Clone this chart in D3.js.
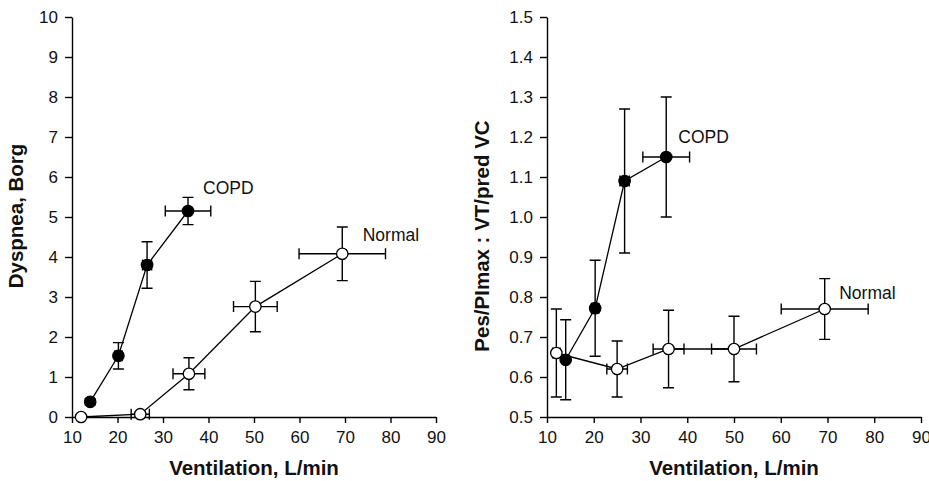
<!DOCTYPE html>
<html>
<head>
<meta charset="utf-8">
<script src="https://cdn.jsdelivr.net/npm/d3@7"></script>
<style>
  body { margin: 0; background: #fff; }
  svg { font-family: "Liberation Sans", Arial, sans-serif; }
  .tick text { font-size: 17px; fill: #111; }
  .tick line, .domain { stroke: #000; stroke-width: 1.4; }
  .axis-title { font-size: 20.5px; font-weight: bold; fill: #111; }
  .series-label { font-size: 17.5px; fill: #111; }
</style>
</head>
<body>
<div id="chart"></div>
<script>
// ventilation (L/min) and its SD, for each group
const ventCopd = [14, 20.2, 26.5, 35.5];
const ventCopdErr = [0.5, 0.8, 1, 5];
const ventNormal = [12, 25, 35.7, 50.3, 69.4];
const ventNormalErr = [0, 2, 3.5, 4.8, 9.5];

// right panel points were read slightly apart from the left ones
const ventCopdR = [14, 20.3, 26.6, 35.5];
const ventCopdRErr = [0.5, 0.8, 1, 5];
const ventNormalR = [12, 25, 36, 50, 69.4];
const ventNormalRErr = [0.8, 2.2, 3.3, 4.8, 9.3];

// dyspnea, Borg
const dyspCopd = [0.38, 1.53, 3.8, 5.15];
const dyspCopdErr = [0.08, 0.33, 0.58, 0.34];
const dyspNormal = [0, 0.07, 1.08, 2.76, 4.08];
const dyspNormalErr = [0, 0.05, 0.4, 0.63, 0.67];

// Pes/PImax : VT/pred VC
const effortCopd = [0.643, 0.772, 1.09, 1.15];
const effortCopdErr = [0.1, 0.12, 0.18, 0.15];
const effortNormal = [0.66, 0.62, 0.67, 0.67, 0.77];
const effortNormalErr = [0.11, 0.07, 0.097, 0.082, 0.076];

const xTicks = [10, 20, 30, 40, 50, 60, 70, 80, 90];
const dyspTicks = [0, 1, 2, 3, 4, 5, 6, 7, 8, 9, 10];
const effortTicks = [0.5, 0.6, 0.7, 0.8, 0.9, 1.0, 1.1, 1.2, 1.3, 1.4, 1.5];

const zip = (xs, xe, ys, ye) => xs.map((x, i) => ({ x: x, xErr: xe[i], y: ys[i], yErr: ye[i] }));

class ErrorScatterChart {
    constructor(_config, _series) {
        this.config = _config;
        this.series = _series;
        this.initVis();
    }

    initVis() {
        let vis = this;
        const c = vis.config;
        vis.xScale = d3.scaleLinear().domain([10, 90]).range([c.left, c.right]);
        vis.yScale = d3.scaleLinear().domain(c.yDomain).range([c.bottom, c.top]);

        vis.g = c.svg.append("g");

        vis.g.append("g")
            .attr("transform", `translate(0,${c.bottom})`)
            .call(d3.axisBottom(vis.xScale).tickValues(xTicks).tickSize(6).tickSizeOuter(0).tickPadding(8))
            .call((g) => g.selectAll(".tick text").attr("font-family", null).attr("font-size", null));

        vis.g.append("g")
            .attr("transform", `translate(${c.left},0)`)
            .call(d3.axisLeft(vis.yScale).tickValues(c.yTicks).tickFormat(c.yFormat).tickSize(7).tickSizeOuter(0).tickPadding(7))
            .call((g) => g.selectAll(".tick text").attr("font-family", null).attr("font-size", null));

        vis.g.append("text")
            .attr("class", "axis-title")
            .attr("x", (c.left + c.right) / 2)
            .attr("y", 475)
            .attr("text-anchor", "middle")
            .text("Ventilation, L/min");

        vis.g.append("text")
            .attr("class", "axis-title")
            .attr("transform", `translate(${c.yTitleX},${c.yTitleY}) rotate(-90)`)
            .attr("text-anchor", "middle")
            .text(c.yTitle);

        vis.renderVis();
    }

    renderVis() {
        let vis = this;
        const x = vis.xScale, y = vis.yScale;
        const cap = 5.5;
        const line = d3.line().x((d) => x(d.x)).y((d) => y(d.y));

        vis.series.forEach((s) => {
            const sg = vis.g.append("g");

            sg.append("path")
                .datum(s.points)
                .attr("d", line)
                .attr("fill", "none")
                .attr("stroke", "#000")
                .attr("stroke-width", 1.3);

            const err = sg.selectAll(".err").data(s.points.filter((d) => d.xErr > 0 || d.yErr > 0))
                .join("g")
                .attr("class", "err")
                .attr("stroke", "#000")
                .attr("stroke-width", 1.4);

            // vertical bar with caps
            err.filter((d) => d.yErr > 0).append("path")
                .attr("fill", "none")
                .attr("d", (d) => {
                    const cx = x(d.x), y0 = y(d.y - d.yErr), y1 = y(d.y + d.yErr);
                    return `M${cx},${y0}V${y1}M${cx - cap},${y0}H${cx + cap}M${cx - cap},${y1}H${cx + cap}`;
                });

            // horizontal bar with caps
            err.filter((d) => d.xErr > 0).append("path")
                .attr("fill", "none")
                .attr("d", (d) => {
                    const cy = y(d.y), x0 = x(d.x - d.xErr), x1 = x(d.x + d.xErr);
                    return `M${x0},${cy}H${x1}M${x0},${cy - cap}V${cy + cap}M${x1},${cy - cap}V${cy + cap}`;
                });

            sg.selectAll("circle").data(s.points)
                .join("circle")
                .attr("cx", (d) => x(d.x))
                .attr("cy", (d) => y(d.y))
                .attr("r", 5.7)
                .attr("fill", s.filled ? "#000" : "#fff")
                .attr("stroke", "#000")
                .attr("stroke-width", 1.3);

            sg.append("text")
                .attr("class", "series-label")
                .attr("x", x(s.labelAt[0]))
                .attr("y", y(s.labelAt[1]))
                .text(s.name);
        });
    }
}

const svg = d3.select("#chart").append("svg").attr("width", 929).attr("height", 481);

new ErrorScatterChart({
    svg: svg, left: 72, right: 436, top: 17, bottom: 417,
    yDomain: [0, 10], yTicks: dyspTicks, yFormat: d3.format("d"),
    yTitle: "Dyspnea, Borg", yTitleX: 23, yTitleY: 216,
}, [
    { name: "Normal", filled: false, labelAt: [73.9, 4.4], points: zip(ventNormal, ventNormalErr, dyspNormal, dyspNormalErr) },
    { name: "COPD", filled: true, labelAt: [38.8, 5.575], points: zip(ventCopd, ventCopdErr, dyspCopd, dyspCopdErr) },
]);

new ErrorScatterChart({
    svg: svg, left: 547, right: 921, top: 17, bottom: 417,
    yDomain: [0.5, 1.5], yTicks: effortTicks, yFormat: d3.format(".1f"),
    yTitle: "Pes/PImax : VT/pred VC", yTitleX: 489, yTitleY: 236,
}, [
    { name: "Normal", filled: false, labelAt: [72.5, 0.795], points: zip(ventNormalR, ventNormalRErr, effortNormal, effortNormalErr) },
    { name: "COPD", filled: true, labelAt: [38.1, 1.185], points: zip(ventCopdR, ventCopdRErr, effortCopd, effortCopdErr) },
]);
</script>
</body>
</html>
